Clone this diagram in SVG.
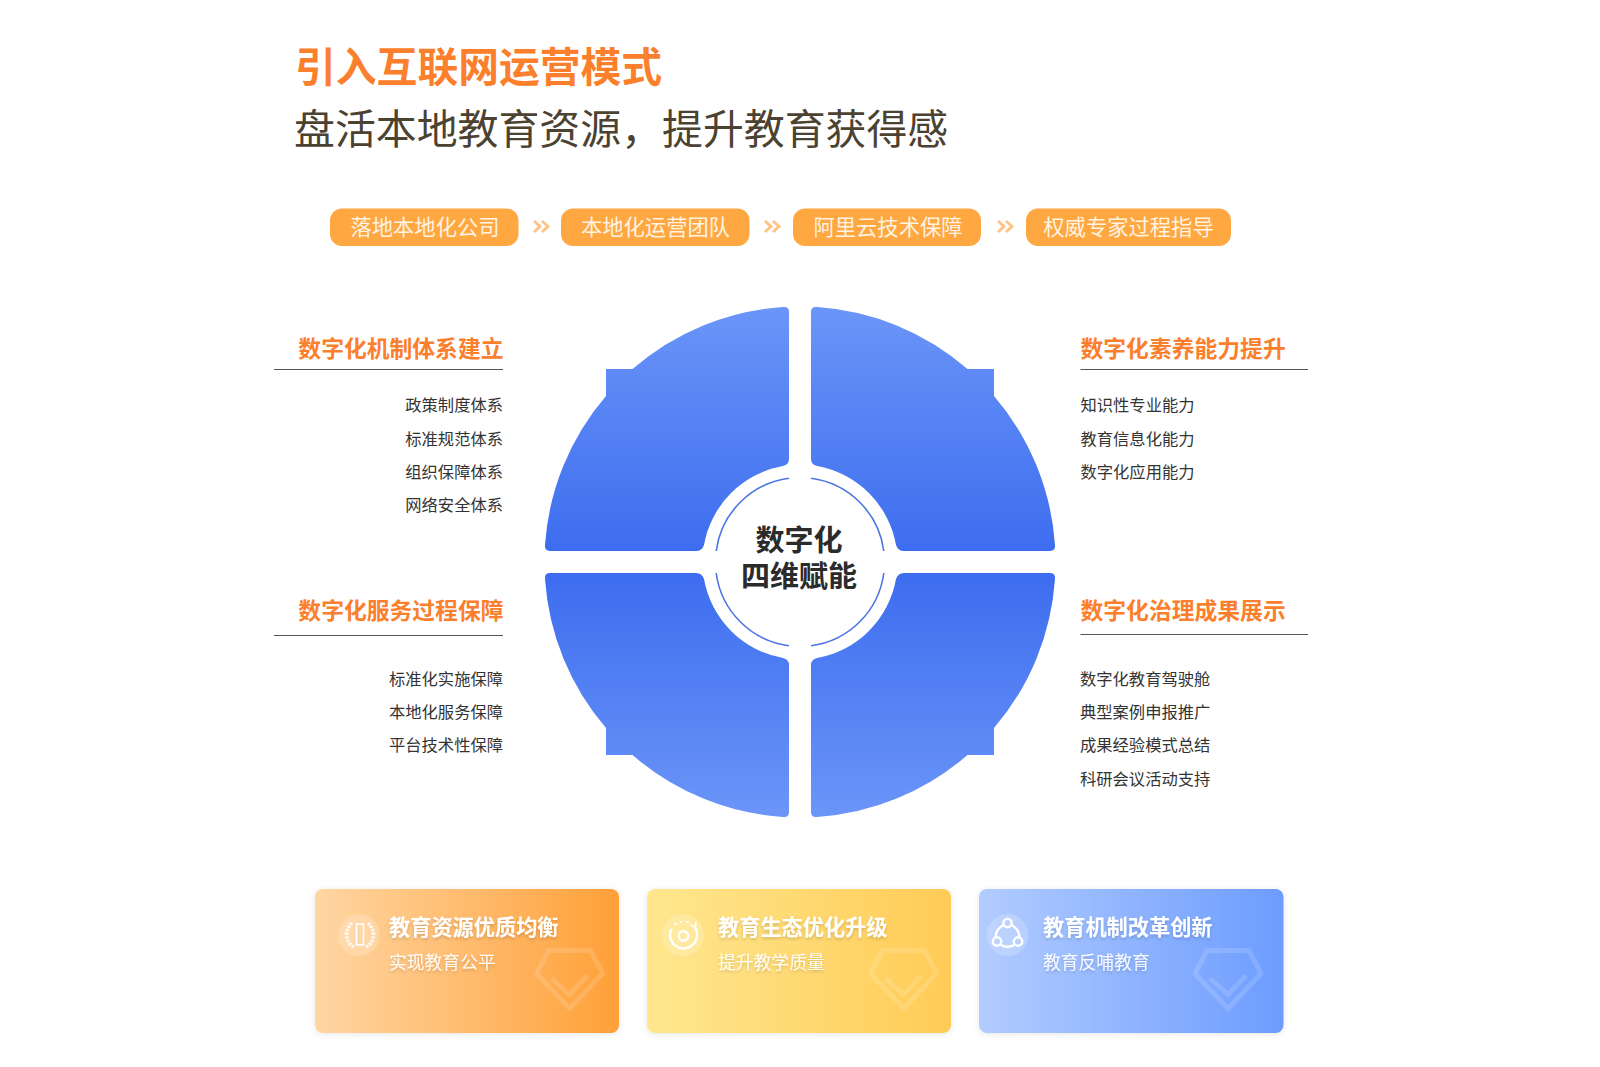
<svg xmlns="http://www.w3.org/2000/svg" xmlns:xlink="http://www.w3.org/1999/xlink" width="1600" height="1067" viewBox="0 0 1600 1067">
<style>
text{font-family:"Noto Sans CJK SC","Noto Sans",sans-serif}
.pill{fill:#FFA741}
.pt{font-size:21.3px;fill:#FFF3E2;text-anchor:middle}
.h{font-size:22.8px;font-weight:700;fill:#FB7F2C}
.it{font-size:16.3px;fill:#333}
.r{text-anchor:end}
.rule{stroke:#555;stroke-width:1;fill:none}
.chev{fill:none;stroke:#FFC384;stroke-width:3}
.ring{fill:none;stroke:#4C76E2;stroke-width:1.6}
.ct{font-size:29px;font-weight:700;fill:#2B2B2B;text-anchor:middle}
.t1{font-size:21.2px;font-weight:700;fill:#fff;filter:url(#ts)}
.t2{font-size:17.8px;fill:#fff;fill-opacity:.92;filter:url(#ts)}
.dia{fill:none;stroke:#fff;stroke-opacity:.14;stroke-width:5;stroke-linejoin:round}
.ic{fill:none;stroke:#fff;stroke-width:2.4}
.thin{stroke-width:1.6}
.lau{stroke-width:3.6;stroke-dasharray:2.5 1.2;stroke-opacity:.85}
.halo{fill:#fff;fill-opacity:.2}
</style>
<defs>
<linearGradient id="gq" x1="0" y1="0" x2="0" y2="1"><stop offset="0" stop-color="#6B95F8"/><stop offset="1" stop-color="#3D6DEF"/></linearGradient>
<linearGradient id="c1" x1="0" y1="0" x2="1" y2="0"><stop offset="0" stop-color="#FFD6A3"/><stop offset="1" stop-color="#FFA038"/></linearGradient>
<linearGradient id="c2" x1="0" y1="0" x2="1" y2="0"><stop offset="0" stop-color="#FFE78F"/><stop offset="1" stop-color="#FFCB56"/></linearGradient>
<linearGradient id="c3" x1="0" y1="0" x2="1" y2="0"><stop offset="0" stop-color="#B2CCFF"/><stop offset="1" stop-color="#6C9CFF"/></linearGradient>
<filter id="ts" x="-10%" y="-30%" width="120%" height="170%"><feDropShadow dx="0" dy="2" stdDeviation="1.6" flood-color="#000" flood-opacity=".16"/></filter>
<filter id="cs" x="-5%" y="-8%" width="110%" height="120%"><feDropShadow dx="0" dy="1" stdDeviation="3" flood-color="#000" flood-opacity=".10"/></filter>
<path id="q" fill="url(#gq)" d="M-11 -250Q-11 -255.800 -17 -255A255.500 255.500 0 0 0 -167.500 -193L-194 -193L-194 -166A255.500 255.500 0 0 0 -255 -17Q-255.600 -11 -250 -11L-104 -11Q-98 -11 -96 -17A97.500 97.500 0 0 1 -17 -96Q-11 -97.500 -11 -103Z"/>
<g id="dm" class="dia"><path d="M-21 -29L21 -29L33 -6L0 29L-33 -6Z"/><path d="M-18 -1L0 15L18 -4"/></g>
</defs>
<rect width="1600" height="1067" fill="#fff"/>

<g id="title">
<text x="295" y="82" style="font-size:40.8px" font-weight="700" fill="#FB7F2C">引入互联网运营模式</text>
<text x="294" y="144" style="font-size:40.9px" fill="#4B4232">盘活本地教育资源，提升教育获得感</text>
</g>

<g id="connectors">
<path class="chev" d="M534 221L540 226.500L534 232M542 221L548 226.500L542 232"/>
<path class="chev" d="M765 221L771 226.500L765 232M773 221L779 226.500L773 232"/>
<path class="chev" d="M998 221L1004 226.500L998 232M1006 221L1012 226.500L1006 232"/>
</g>

<g id="step1"><rect class="pill" x="330" y="208.500" width="188.500" height="37.500" rx="12"/><text class="pt" x="425" y="235">落地本地化公司</text></g>
<g id="step2"><rect class="pill" x="561" y="208.500" width="188.500" height="37.500" rx="12"/><text class="pt" x="655.500" y="235">本地化运营团队</text></g>
<g id="step3"><rect class="pill" x="793" y="208.500" width="188" height="37.500" rx="12"/><text class="pt" x="888" y="235">阿里云技术保障</text></g>
<g id="step4"><rect class="pill" x="1026" y="208.500" width="205" height="37.500" rx="12"/><text class="pt" x="1128.500" y="235">权威专家过程指导</text></g>

<g id="wheel" transform="translate(800 562)">
<use xlink:href="#q" href="#q"/>
<use xlink:href="#q" href="#q" transform="scale(-1 1)"/>
<use xlink:href="#q" href="#q" transform="scale(1 -1)"/>
<use xlink:href="#q" href="#q" transform="scale(-1 -1)"/>
<path class="ring" d="M-11 -83.800A84.500 84.500 0 0 0 -83.800 -11M11 -83.800A84.500 84.500 0 0 1 83.800 -11M-11 83.800A84.500 84.500 0 0 1 -83.800 11M11 83.800A84.500 84.500 0 0 0 83.800 11"/>
<text class="ct"><tspan x="-1" y="-11.500">数字化</tspan><tspan x="-1" y="25">四维赋能</tspan></text>
</g>

<g id="tl">
<text class="h r" x="503.500" y="357">数字化机制体系建立</text>
<path class="rule" d="M274 369.500H503"/>
<text class="it r" x="503" y="411">政策制度体系</text>
<text class="it r" x="503" y="445">标准规范体系</text>
<text class="it r" x="503" y="478">组织保障体系</text>
<text class="it r" x="503" y="511">网络安全体系</text>
</g>
<g id="tr">
<text class="h" x="1080.500" y="357">数字化素养能力提升</text>
<path class="rule" d="M1080.500 369.500H1308"/>
<text class="it" x="1080.500" y="411">知识性专业能力</text>
<text class="it" x="1080.500" y="445">教育信息化能力</text>
<text class="it" x="1080.500" y="478">数字化应用能力</text>
</g>
<g id="bl">
<text class="h r" x="503.500" y="619">数字化服务过程保障</text>
<path class="rule" d="M274 635.500H503"/>
<text class="it r" x="503" y="684.500">标准化实施保障</text>
<text class="it r" x="503" y="718">本地化服务保障</text>
<text class="it r" x="503" y="751">平台技术性保障</text>
</g>
<g id="br">
<text class="h" x="1080.500" y="619">数字化治理成果展示</text>
<path class="rule" d="M1080.500 634.500H1308"/>
<text class="it" x="1080" y="684.500">数字化教育驾驶舱</text>
<text class="it" x="1080" y="718">典型案例申报推广</text>
<text class="it" x="1080" y="751">成果经验模式总结</text>
<text class="it" x="1080" y="785">科研会议活动支持</text>
</g>

<g id="card1">
<rect x="315" y="889" width="304" height="144" rx="8" fill="url(#c1)" filter="url(#cs)"/>
<use xlink:href="#dm" href="#dm" transform="translate(569.500 979.500)"/>
<circle class="halo" cx="359" cy="935" r="21"/>
<g class="ic"><rect class="thin" x="356.500" y="924" width="7" height="21"/><path class="lau" d="M352 923C344 930 345 942 354 947M368 923C376 930 375 942 366 947"/></g>
<text class="t1" x="389" y="935">教育资源优质均衡</text>
<text class="t2" x="389" y="969">实现教育公平</text>
</g>
<g id="card2">
<rect x="647" y="889" width="304" height="144" rx="8" fill="url(#c2)" filter="url(#cs)"/>
<use xlink:href="#dm" href="#dm" transform="translate(903.500 979.500)"/>
<circle class="halo" cx="683" cy="935" r="21"/>
<g class="ic"><path d="M694.500 927A13.500 13.500 0 1 1 671.500 929"/><path class="thin" d="M690.500 924.500L695.500 927.500L696 921.500"/><path class="thin" d="M674.500 925A13.500 13.500 0 0 1 689 922.500" stroke-dasharray="3 3"/><circle cx="683.500" cy="936" r="4.800"/></g>
<text class="t1" x="718" y="935">教育生态优化升级</text>
<text class="t2" x="718" y="969">提升教学质量</text>
</g>
<g id="card3">
<rect x="979" y="889" width="304.500" height="144" rx="8" fill="url(#c3)" filter="url(#cs)"/>
<use xlink:href="#dm" href="#dm" transform="translate(1228 979.500)"/>
<circle class="halo" cx="1007.500" cy="935" r="21"/>
<g class="ic"><path d="M1003.500 925A15 15 0 0 0 995.500 937.500M1011.500 925A15 15 0 0 1 1019.500 937.500M1001 945A14 14 0 0 0 1014 945"/><circle cx="1007.500" cy="923" r="4.200"/><circle cx="997" cy="941.500" r="4.200"/><circle cx="1018" cy="941.500" r="4.200"/></g>
<text class="t1" x="1043" y="935">教育机制改革创新</text>
<text class="t2" x="1043" y="969">教育反哺教育</text>
</g>
</svg>
